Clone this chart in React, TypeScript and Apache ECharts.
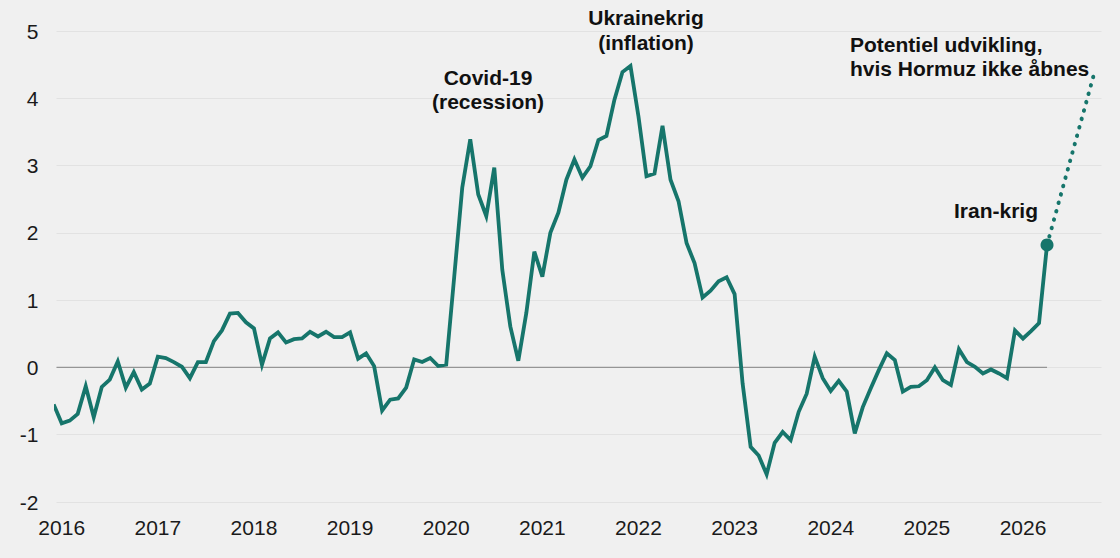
import React, { useEffect, useRef } from "react";
import * as echarts from "echarts";

// Month index 0 = January 2016 (index -1 = December 2015, clipped at the left edge)
const startIndex = -1;
const values2015 = [-0.55];
const values2016 = [-0.83, -0.79, -0.69, -0.28, -0.74, -0.29, -0.18, 0.09, -0.3, -0.07, -0.33, -0.24];
const values2017 = [0.16, 0.14, 0.08, 0.01, -0.16, 0.08, 0.08, 0.39, 0.55, 0.8, 0.81, 0.67];
const values2018 = [0.58, 0.04, 0.43, 0.52, 0.37, 0.42, 0.43, 0.53, 0.46, 0.53, 0.45, 0.45];
const values2019 = [0.52, 0.13, 0.21, 0.02, -0.64, -0.48, -0.46, -0.3, 0.12, 0.08, 0.14, 0.02];
const values2020 = [0.04, 1.35, 2.67, 3.39, 2.57, 2.25, 2.97, 1.45, 0.61, 0.1, 0.81, 1.72];
const values2021 = [1.35, 2.0, 2.3, 2.79, 3.09, 2.82, 2.99, 3.38, 3.44, 3.98, 4.39, 4.48];
const values2022 = [3.73, 2.84, 2.88, 3.59, 2.79, 2.47, 1.85, 1.55, 1.04, 1.14, 1.28, 1.34];
const values2023 = [1.09, -0.24, -1.18, -1.31, -1.59, -1.12, -0.96, -1.08, -0.66, -0.39, 0.16, -0.16];
const values2024 = [-0.35, -0.2, -0.36, -0.98, -0.59, -0.31, -0.04, 0.21, 0.11, -0.36, -0.29, -0.28];
const values2025 = [-0.19, 0.0, -0.19, -0.26, 0.27, 0.08, 0.01, -0.09, -0.03, -0.09, -0.16, 0.55];
const values2026 = [0.43, 0.54, 0.66, 1.82];

// Projection ("Potentiel udvikling"): from April 2026 to October 2026
const projectionMonths = [123, 129];
const projectionValues = [1.82, 4.42];

const yearLabels = ["2016", "2017", "2018", "2019", "2020", "2021", "2022", "2023", "2024", "2025", "2026"];
const yTicks = [-2, -1, 0, 1, 2, 3, 4, 5];

const annotations = [
  { text: "Covid-19\n(recession)", x: 488, y: 89.5, align: "center" },
  { text: "Ukrainekrig\n(inflation)", x: 646, y: 30, align: "center" },
  { text: "Potentiel udvikling,\nhvis Hormuz ikke åbnes", x: 850, y: 56.5, align: "left" },
  { text: "Iran-krig", x: 996, y: 210, align: "center" },
];

const X_MIN = -0.65;
const X_MAX = 129.8;

export default function App() {
  const ref = useRef<HTMLDivElement>(null);

  useEffect(() => {
    document.body.style.margin = "0";
    if (!ref.current) return;
    const chart = echarts.init(ref.current, undefined, { renderer: "svg" });

    const all = [
      ...values2015, ...values2016, ...values2017, ...values2018, ...values2019,
      ...values2020, ...values2021, ...values2022, ...values2023, ...values2024,
      ...values2025, ...values2026,
    ];
    const mainData = all.map((v, i) => [startIndex + i, v]);
    const lastIdx = startIndex + all.length - 1;
    const lastVal = all[all.length - 1];
    const color = "#16756b";
    const font = "'Liberation Sans', Arial, sans-serif";

    chart.setOption({
      animation: false,
      backgroundColor: "#f0f0f0",
      grid: { left: 56.5, right: 18.5, top: 31, bottom: 56, containLabel: false },
      xAxis: {
        type: "value",
        min: X_MIN,
        max: X_MAX,
        axisLine: { show: false },
        axisTick: { show: false },
        splitLine: { show: false },
        axisLabel: {
          customValues: yearLabels.map((_, i) => i * 12),
          formatter: (v: number) => yearLabels[Math.round(v / 12)] ?? "",
          fontSize: 21,
          fontFamily: font,
          color: "#1a1a1a",
          margin: 15,
        },
      },
      yAxis: {
        type: "value",
        min: yTicks[0],
        max: yTicks[yTicks.length - 1],
        interval: 1,
        axisLine: { show: false },
        axisTick: { show: false },
        axisLabel: { fontSize: 21, fontFamily: font, color: "#1a1a1a", margin: 18 },
        splitLine: { lineStyle: { color: "#e2e2e2", width: 1 } },
      },
      graphic: annotations.map((a) => ({
        type: "text",
        x: a.x,
        y: a.y,
        z: 100,
        style: {
          text: a.text,
          fill: "#111111",
          fontSize: 21,
          fontWeight: "bold",
          fontFamily: font,
          textAlign: a.align,
          textVerticalAlign: "middle",
          lineHeight: 24.5,
        },
      })),
      series: [
        {
          type: "line",
          data: [[X_MIN, 0], [lastIdx, 0]],
          symbol: "none",
          silent: true,
          z: 1,
          lineStyle: { color: "#959595", width: 1.2 },
        },
        {
          type: "line",
          data: projectionMonths.map((m, i) => [m, projectionValues[i]]),
          symbol: "none",
          z: 2,
          lineStyle: { color, width: 4, type: [0.5, 8.2], cap: "round" },
        },
        {
          type: "line",
          data: mainData,
          symbol: "none",
          clip: true,
          z: 3,
          lineStyle: { color, width: 3.8, join: "miter" },
        },
        {
          type: "scatter",
          data: [[lastIdx, lastVal]],
          symbol: "circle",
          symbolSize: 13,
          z: 4,
          itemStyle: { color, opacity: 1 },
        },
      ],
    });

    return () => chart.dispose();
  }, []);

  return <div ref={ref} style={{ position: "absolute", left: 0, top: 0, width: 1120, height: 558 }} />;
}
